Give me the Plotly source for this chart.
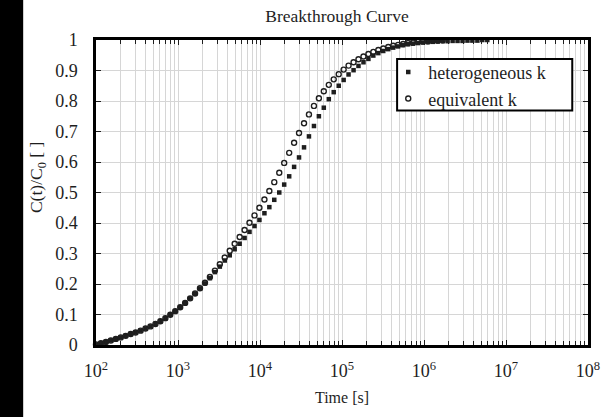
import plotly.graph_objects as go

# log10 of time [s] for every sampled point
log_time = [2.000, 2.060, 2.121, 2.181, 2.242, 2.302, 2.362, 2.423, 2.483, 2.544,
            2.604, 2.664, 2.725, 2.785, 2.846, 2.906, 2.966, 3.027, 3.087, 3.148,
            3.208, 3.268, 3.329, 3.389, 3.450, 3.510, 3.570, 3.631, 3.691, 3.752,
            3.812, 3.872, 3.933, 3.993, 4.054, 4.114, 4.174, 4.235, 4.295, 4.356,
            4.416, 4.476, 4.537, 4.597, 4.658, 4.718, 4.778, 4.839, 4.899, 4.960,
            5.020, 5.080, 5.141, 5.201, 5.262, 5.322, 5.382, 5.443, 5.503, 5.564,
            5.624, 5.684, 5.745, 5.805, 5.866, 5.926, 5.986, 6.047, 6.107, 6.168,
            6.228, 6.288, 6.349, 6.409, 6.470, 6.530, 6.590, 6.651, 6.711, 6.772]

heterogeneous_k = [0.002, 0.006, 0.010, 0.015, 0.020, 0.025, 0.030, 0.036, 0.041, 0.047,
                   0.054, 0.061, 0.069, 0.078, 0.088, 0.099, 0.111, 0.124, 0.138, 0.153,
                   0.168, 0.185, 0.202, 0.219, 0.239, 0.257, 0.277, 0.294, 0.314, 0.332,
                   0.351, 0.371, 0.390, 0.410, 0.432, 0.452, 0.476, 0.500, 0.526, 0.553,
                   0.584, 0.615, 0.648, 0.684, 0.718, 0.750, 0.778, 0.806, 0.829, 0.850,
                   0.869, 0.887, 0.901, 0.915, 0.927, 0.938, 0.949, 0.957, 0.964, 0.970,
                   0.975, 0.979, 0.983, 0.986, 0.988, 0.990, 0.992, 0.993, 0.994, 0.995,
                   0.996, 0.996, 0.997, 0.997, 0.997, 0.998, 0.998, 0.998, 1.000, 1.000]

equivalent_k = [0.002, 0.006, 0.010, 0.015, 0.020, 0.025, 0.030, 0.036, 0.041, 0.047,
                0.054, 0.061, 0.069, 0.078, 0.088, 0.099, 0.111, 0.124, 0.138, 0.153,
                0.169, 0.186, 0.204, 0.223, 0.244, 0.265, 0.287, 0.309, 0.332, 0.354,
                0.377, 0.401, 0.425, 0.450, 0.477, 0.505, 0.534, 0.565, 0.597, 0.630,
                0.663, 0.695, 0.727, 0.756, 0.784, 0.809, 0.832, 0.853, 0.871, 0.888,
                0.903, 0.916, 0.927, 0.937, 0.946, 0.954, 0.961, 0.967, 0.972, 0.977,
                0.981, 0.984, 0.987, 0.990, 0.992, 0.994, 0.995, 0.996, 0.997, 0.998,
                0.999]

x_tick_exponents = [2, 3, 4, 5, 6, 7, 8]
y_tick_values = [0, 0.1, 0.2, 0.3, 0.4, 0.5, 0.6, 0.7, 0.8, 0.9, 1]

time_het = [10 ** u for u in log_time[:len(heterogeneous_k)]]
time_eq = [10 ** u for u in log_time[:len(equivalent_k)]]

SERIF = "Liberation Serif"
INK = "#1e1e1e"
GRID = "#d6d6d6"

# pixel helpers for the plot area (x: 96..596, y: 347..40)
def px_x(p):
    return (p - 96) / 500

def px_y(p):
    return (347 - p) / 307

fig = go.Figure()
fig.add_trace(go.Scatter(
    x=time_het, y=heterogeneous_k, mode="markers", name="heterogeneous k",
    marker=dict(symbol="square", size=4.5, color=INK, line=dict(width=0)),
    cliponaxis=False,
))
fig.add_trace(go.Scatter(
    x=time_eq, y=equivalent_k, mode="markers", name="equivalent k",
    marker=dict(symbol="circle-open", size=5, color=INK, line=dict(width=1.4, color=INK)),
    cliponaxis=False,
))

fig.update_layout(
    width=612, height=417,
    margin=dict(l=96, r=16, t=40, b=70),
    paper_bgcolor="white", plot_bgcolor="white",
    font=dict(family=SERIF, size=17, color=INK),
    title=dict(text="Breakthrough Curve", x=337 / 612, xanchor="center",
               y=1 - 16 / 417, yanchor="middle", xref="container", yref="container",
               font=dict(family=SERIF, size=17.5, color=INK)),
    showlegend=True,
    legend=dict(x=px_x(393), y=px_y(54), xanchor="left", yanchor="top",
                bgcolor="rgba(0,0,0,0)", borderwidth=0,
                font=dict(family=SERIF, size=18, color=INK),
                itemwidth=30, tracegroupgap=0),
    shapes=[
        dict(type="rect", xref="paper", yref="paper",
             x0=px_x(402), x1=px_x(580), y0=px_y(111), y1=px_y(59),
             fillcolor="white", line=dict(width=2, color="black"), layer="above"),
        dict(type="rect", xref="paper", yref="paper",
             x0=-0.25, x1=px_x(22), y0=-0.3, y1=1.2,
             fillcolor="black", line=dict(width=0), layer="above"),
    ],
)

fig.update_xaxes(
    type="log", range=[2, 8],
    tickmode="array",
    tickvals=[10 ** e for e in x_tick_exponents],
    ticktext=[f"10<sup>{e}</sup>" for e in x_tick_exponents],
    ticks="inside", ticklen=5, tickwidth=1, tickcolor=INK,
    showgrid=True, gridcolor=GRID, gridwidth=1,
    minor=dict(dtick="D1", ticks="inside", ticklen=4, tickcolor=INK,
               showgrid=True, gridcolor=GRID, gridwidth=1),
    showline=True, linecolor="black", linewidth=2.5, mirror="allticks",
    tickfont=dict(family=SERIF, size=18, color=INK),
    ticklabelstandoff=8,
    title=dict(text="Time [s]", font=dict(family=SERIF, size=16, color=INK), standoff=12),
    zeroline=False,
)
fig.update_yaxes(
    range=[0, 1],
    tickmode="array", tickvals=y_tick_values,
    ticktext=[("%g" % v) for v in y_tick_values],
    ticks="inside", ticklen=5, tickwidth=1, tickcolor=INK,
    showgrid=True, gridcolor=GRID, gridwidth=1,
    showline=True, linecolor="black", linewidth=2.5, mirror="allticks",
    tickfont=dict(family=SERIF, size=18, color=INK),
    ticklabelstandoff=12,
    zeroline=False,
)

fig.add_annotation(
    text="C(t)/C<sub>0</sub> [ ]", textangle=-90,
    xref="paper", yref="paper", x=px_x(36), y=px_y(178),
    xanchor="center", yanchor="middle", showarrow=False,
    font=dict(family=SERIF, size=17.5, color=INK),
)

fig.write_html("out.html")
